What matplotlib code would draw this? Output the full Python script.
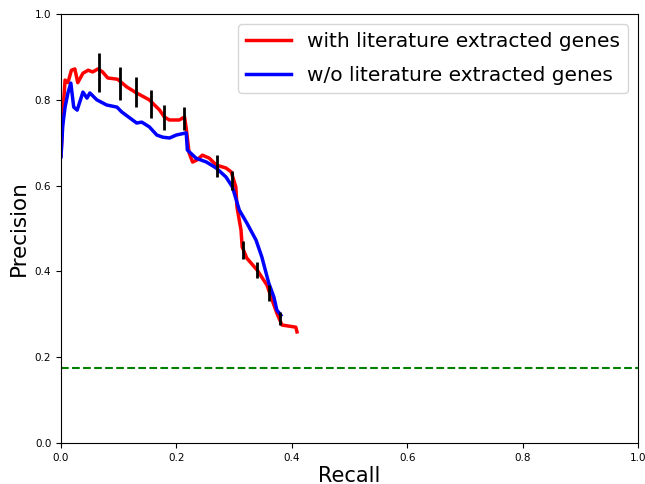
import matplotlib
matplotlib.use("Agg")
import matplotlib.pyplot as plt

# precision-recall curves
rec_lit = [0.0, 0.004, 0.007, 0.012, 0.018, 0.024, 0.029, 0.038, 0.047, 0.055, 0.064,
           0.072, 0.081, 0.098, 0.114, 0.131, 0.153, 0.171, 0.179, 0.188, 0.205,
           0.214, 0.217, 0.222, 0.228, 0.236, 0.245, 0.257, 0.269, 0.286, 0.295,
           0.303, 0.305, 0.312, 0.314, 0.322, 0.340, 0.357, 0.366, 0.374, 0.383,
           0.407, 0.409]
prec_lit = [0.671, 0.784, 0.846, 0.840, 0.869, 0.872, 0.840, 0.862, 0.869, 0.865, 0.872,
            0.865, 0.851, 0.848, 0.830, 0.816, 0.800, 0.776, 0.760, 0.753, 0.753,
            0.760, 0.734, 0.676, 0.655, 0.660, 0.671, 0.664, 0.648, 0.641, 0.632,
            0.597, 0.550, 0.496, 0.457, 0.431, 0.403, 0.368, 0.333, 0.303, 0.275,
            0.270, 0.259]

rec_nolit = [0.0, 0.003, 0.007, 0.012, 0.017, 0.022, 0.028, 0.038, 0.045, 0.050, 0.062,
             0.079, 0.097, 0.105, 0.119, 0.131, 0.140, 0.153, 0.166, 0.176, 0.188,
             0.200, 0.217, 0.219, 0.234, 0.252, 0.269, 0.286, 0.297, 0.309, 0.322,
             0.338, 0.348, 0.360, 0.369, 0.374, 0.381]
prec_nolit = [0.667, 0.740, 0.783, 0.816, 0.839, 0.783, 0.776, 0.818, 0.804, 0.816, 0.800,
              0.788, 0.783, 0.772, 0.758, 0.746, 0.748, 0.737, 0.718, 0.713, 0.711,
              0.718, 0.723, 0.683, 0.664, 0.655, 0.641, 0.620, 0.597, 0.543, 0.513,
              0.473, 0.434, 0.373, 0.340, 0.310, 0.298]

# error bars on the literature curve
err_x = [0.066, 0.103, 0.130, 0.156, 0.178, 0.214, 0.271, 0.296, 0.316, 0.340, 0.360, 0.379]
err_y = [0.864, 0.838, 0.818, 0.790, 0.759, 0.756, 0.646, 0.612, 0.450, 0.403, 0.350, 0.290]
err_h = [0.045, 0.038, 0.035, 0.033, 0.030, 0.027, 0.025, 0.022, 0.020, 0.018, 0.018, 0.015]

baseline = 0.175

fig = plt.figure(figsize=(6.45, 4.84), dpi=100)
ax = fig.add_axes([0.0946, 0.0847, 0.8945, 0.8863])

ax.plot(rec_lit, prec_lit, color='red', lw=2.5, label='with literature extracted genes')
ax.plot(rec_nolit, prec_nolit, color='blue', lw=2.5, label='w/o literature extracted genes')
ax.errorbar(err_x, err_y, yerr=err_h, fmt='none', ecolor='black', elinewidth=2)
ax.axhline(baseline, color='green', linestyle='--', lw=1.5)

ax.set_xlim(0, 1)
ax.set_ylim(0, 1)
ax.tick_params(labelsize=7.5)
ax.set_xlabel('Recall', fontsize=15, labelpad=2)
ax.set_ylabel('Precision', fontsize=15.5, labelpad=4)
ax.legend(loc='upper right', fontsize=14.5, handlelength=2.2, labelspacing=0.75)

fig.savefig("out.png", dpi=100)
